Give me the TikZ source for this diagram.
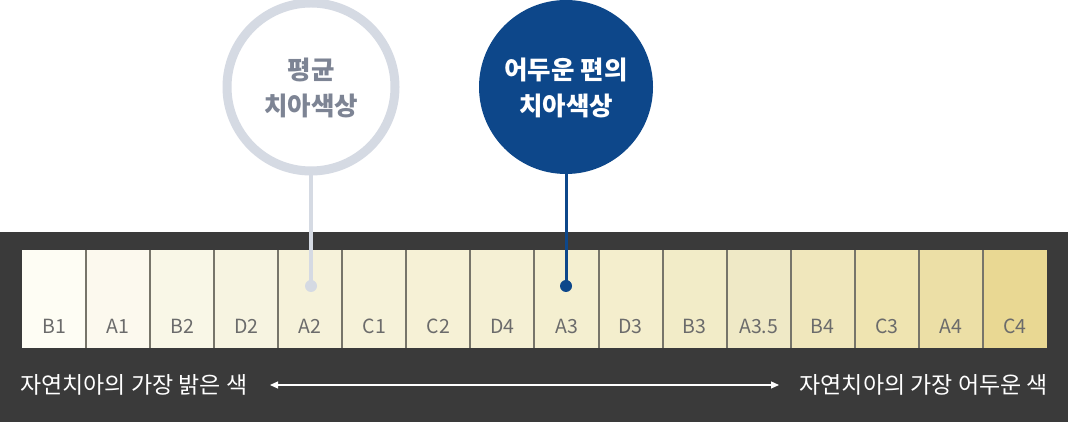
\documentclass[tikz,border=0pt]{standalone}
\usepackage{fontspec}
\setmainfont{Noto Sans CJK KR}
\newfontfamily\kr{Noto Sans CJK KR}
\usetikzlibrary{arrows.meta}
\definecolor{band}{HTML}{3A3A3A}
\definecolor{sep}{HTML}{77756A}
\definecolor{ringgray}{HTML}{D5DAE3}
\definecolor{txtgray}{HTML}{7D8494}
\definecolor{navy}{HTML}{0D478A}
\definecolor{lbl}{HTML}{6B6B6B}
\definecolor{s1}{HTML}{FEFDF4}
\definecolor{s2}{HTML}{FCF9EE}
\definecolor{s3}{HTML}{F9F7E7}
\definecolor{s4}{HTML}{F7F4E1}
\definecolor{s5}{HTML}{F6F2DA}
\definecolor{s6}{HTML}{F6F2D9}
\definecolor{s7}{HTML}{F6F1D6}
\definecolor{s8}{HTML}{F5F0D4}
\definecolor{s9}{HTML}{F4EFD0}
\definecolor{s10}{HTML}{F4EECD}
\definecolor{s11}{HTML}{F2ECC8}
\definecolor{s12}{HTML}{EFE9C6}
\definecolor{s13}{HTML}{F0E7BC}
\definecolor{s14}{HTML}{EFE4B1}
\definecolor{s15}{HTML}{ECDFA6}
\definecolor{s16}{HTML}{E9D893}
\begin{document}
\begin{tikzpicture}[x=1pt,y=1pt,
  swatch/.style={draw=none,minimum width=64.06pt,minimum height=98pt,inner sep=0pt,outer sep=0pt},
  swlabel/.style={text=lbl,font=\kr\fontsize{19.5}{19.5}\selectfont,inner sep=0pt},
  circtext/.style={font=\kr\bfseries\fontsize{25.5}{36}\selectfont,align=center,inner sep=0pt},
  bottomtext/.style={text=white,font=\kr\fontsize{23}{23}\selectfont,inner sep=0pt},
  dot/.style={circle,inner sep=0pt,minimum size=12pt}]
\useasboundingbox (0,0) rectangle (1068,422);
\fill[white] (0,0) rectangle (1068,422);
\fill[band] (0,0) rectangle (1068,190);
% swatches
\foreach \lab [count=\i] in {B1,A1,B2,D2,A2,C1,C2,D4,A3,D3,B3,A3.5,B4,C3,A4,C4}{
  \node[swatch,fill=s\i,anchor=south west] (sw\i) at ({22+(\i-1)*64.06},74) {};
  \node[swlabel] (lb\i) at ({22+(\i-0.5)*64.06},96) {\lab};
}
\foreach \i in {2,...,16}{
  \draw[sep,line width=2pt] (sw\i.south west) -- (sw\i.north west);
}
% gray circle
\node[circle,draw=ringgray,line width=9pt,fill=white,minimum size=168pt,inner sep=0pt] (cg) at (311,335) {};
\node[circtext,text=txtgray] (tg) at (311,334) {평균\\치아색상};
\node[dot,fill=ringgray] (dg) at (311,136) {};
\draw[ringgray,line width=4pt] (cg.south) -- (dg.center);
% navy circle
\node[circle,fill=navy,minimum size=174pt,inner sep=0pt] (cb) at (566,335) {};
\node[circtext,text=white] (tb) at (566,334) {어두운 편의\\치아색상};
\node[dot,fill=navy] (db) at (566,136) {};
\draw[navy,line width=3pt] (cb.south) -- (db.center);
% bottom
\node[bottomtext,anchor=west] (bl) at (20,37) {자연치아의 가장 밝은 색};
\node[bottomtext,anchor=east] (br) at (1048,37) {자연치아의 가장 어두운 색};
\coordinate (al) at (270,37);
\coordinate (ar) at (779,37);
\draw[white,line width=1.2pt,{Triangle[length=8pt,width=7pt]}-{Triangle[length=8pt,width=7pt]}] (al) -- (ar);
\end{tikzpicture}
\end{document}
